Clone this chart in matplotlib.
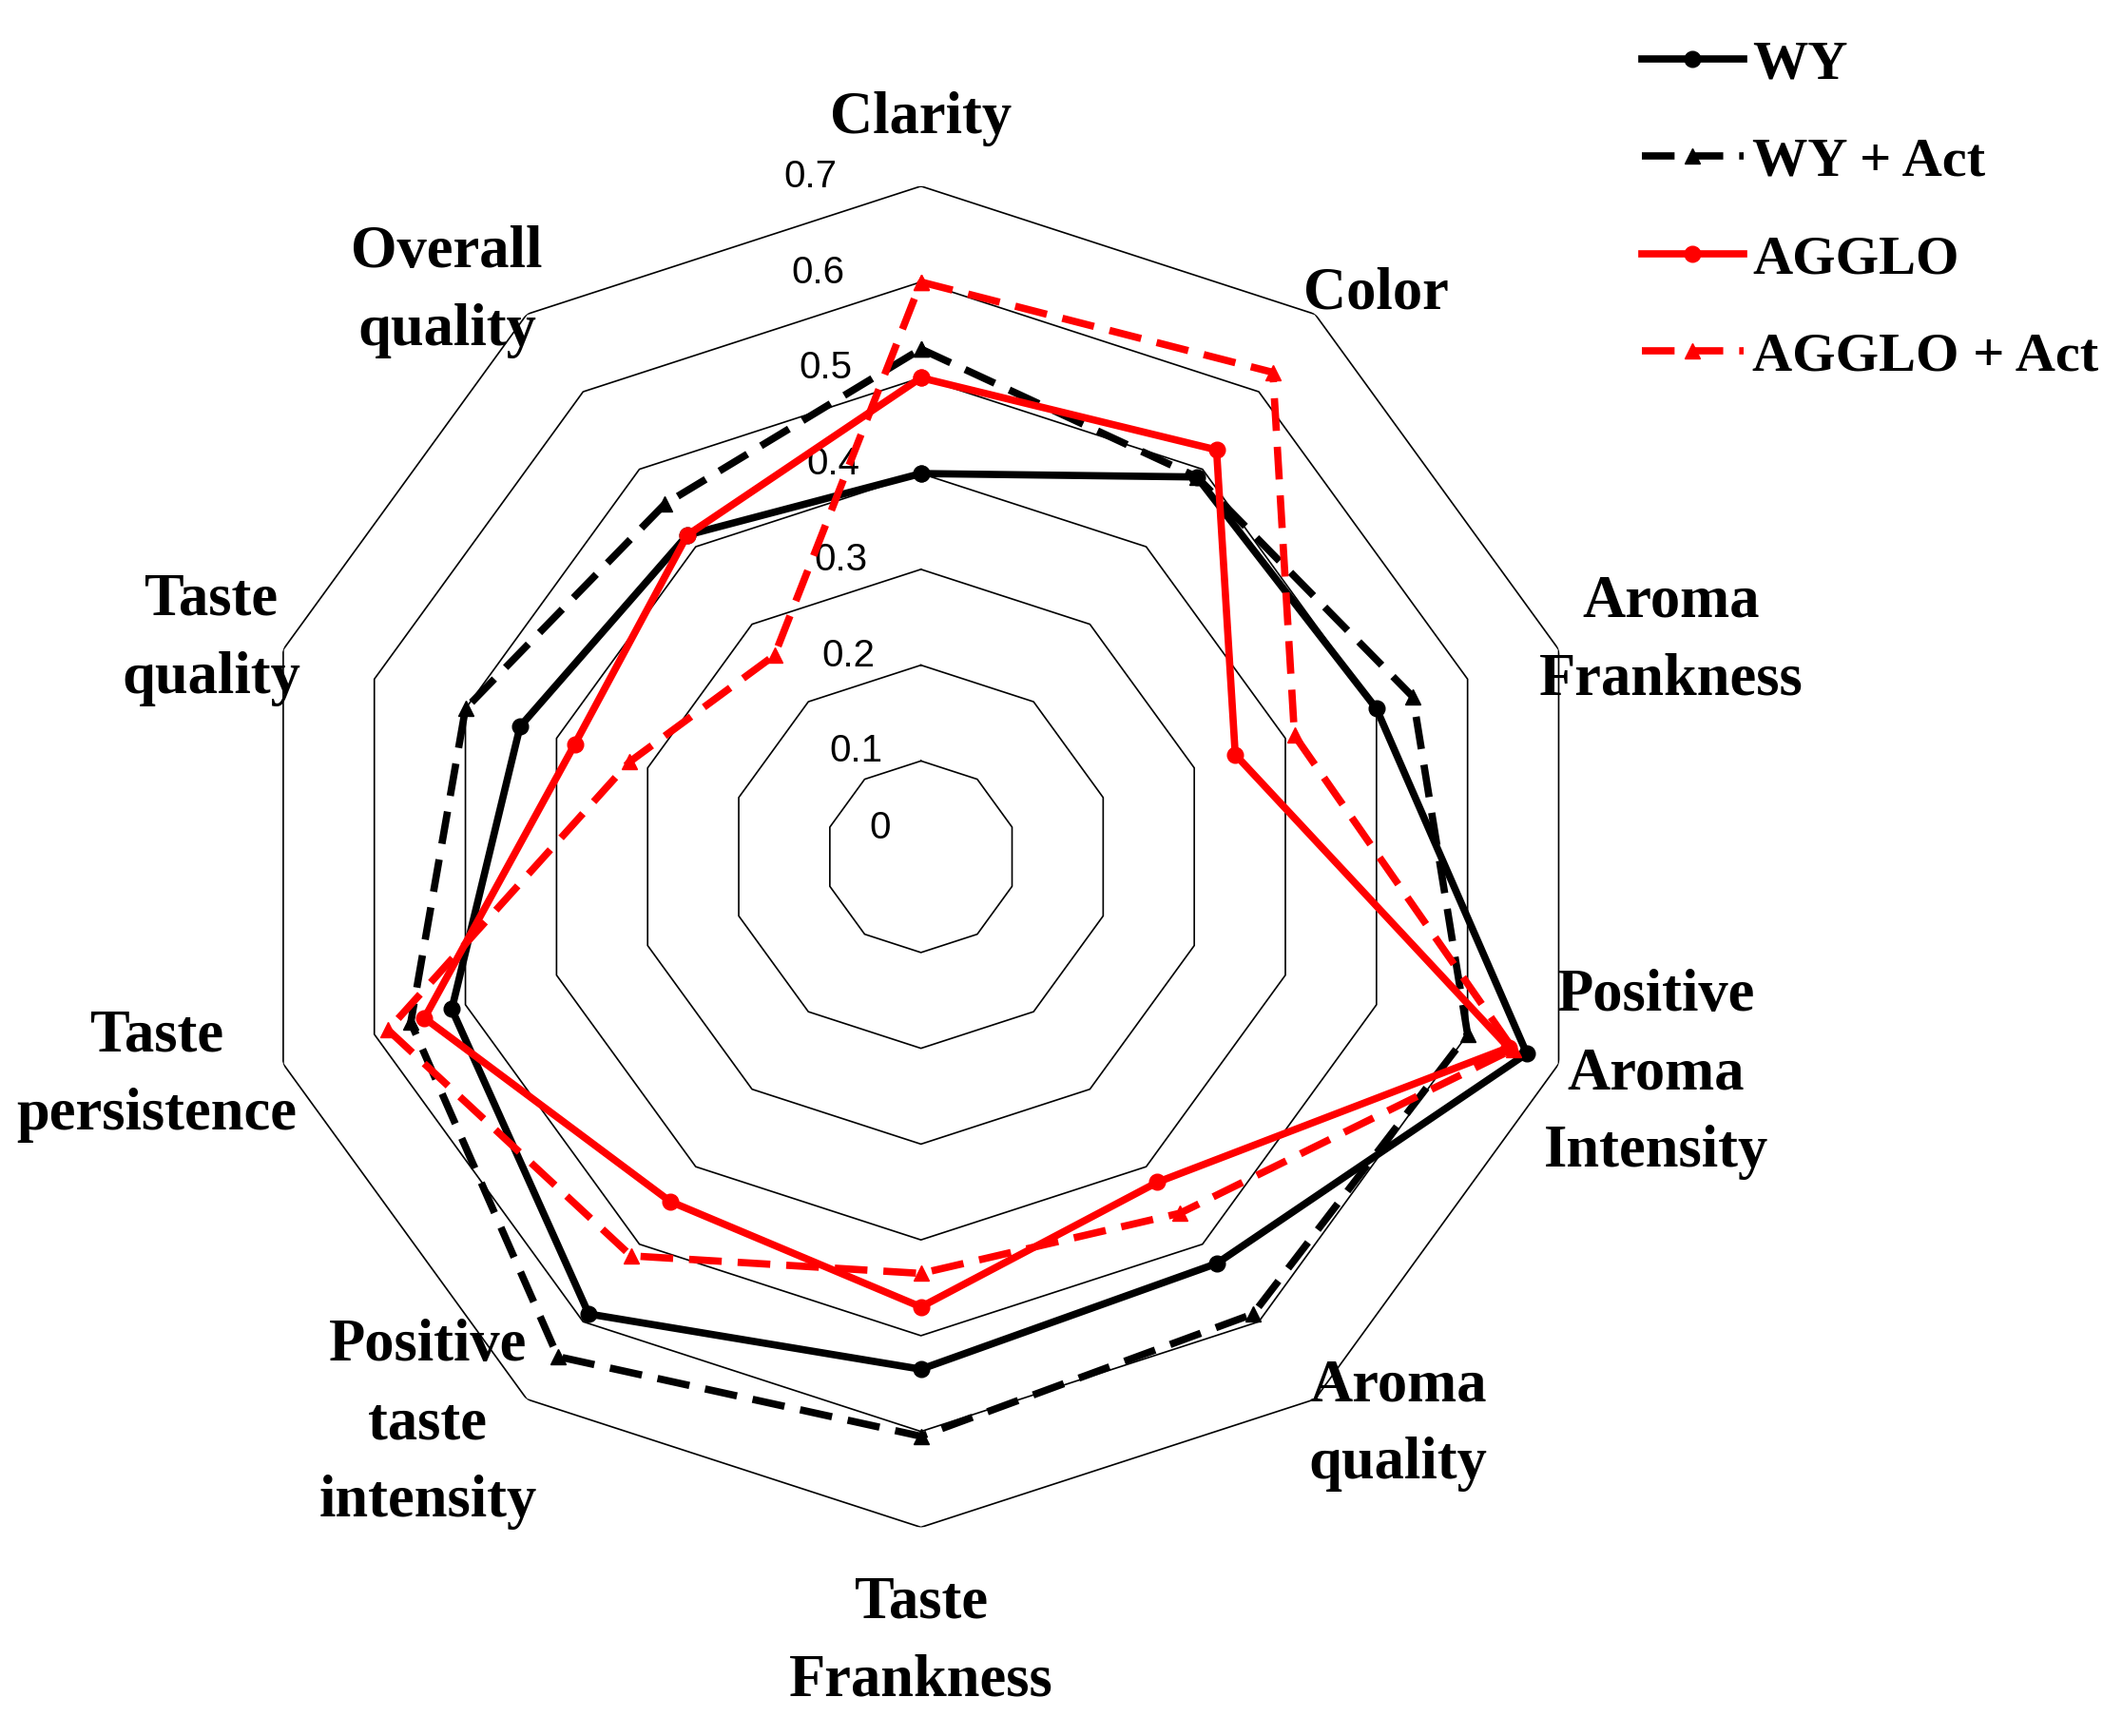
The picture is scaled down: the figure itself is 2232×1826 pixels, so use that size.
import numpy as np
import matplotlib.pyplot as plt
from matplotlib.lines import Line2D

# axes, clockwise from the top
categories = ["Clarity", "Color", "Aroma\nFrankness", "Positive\nAroma\nIntensity",
              "Aroma\nquality", "Taste\nFrankness", "Positive\ntaste\nintensity",
              "Taste\npersistence", "Taste\nquality", "Overall\nquality"]

wy = [0.40, 0.49, 0.50, 0.665, 0.525, 0.535, 0.59, 0.515, 0.44, 0.415]
wy_act = [0.53, 0.49, 0.54, 0.60, 0.59, 0.605, 0.645, 0.56, 0.50, 0.455]
agglo = [0.50, 0.525, 0.345, 0.645, 0.42, 0.47, 0.445, 0.545, 0.38, 0.415]
agglo_act = [0.60, 0.625, 0.41, 0.65, 0.46, 0.435, 0.515, 0.585, 0.32, 0.26]

levels = [0.1, 0.2, 0.3, 0.4, 0.5, 0.6, 0.7]
tick_labels = ["0", "0.1", "0.2", "0.3", "0.4", "0.5", "0.6", "0.7"]

# label placement (angle in degrees, radius)
label_pos = [(0, 0.77), (39, 0.755), (74, 0.815), (106.5, 0.80), (140, 0.775),
             (180, 0.82), (221, 0.785), (254, 0.83), (287, 0.775), (320, 0.77)]

serif = ["Liberation Serif", "DejaVu Serif"]
sans = ["Liberation Sans", "DejaVu Sans"]

n = len(categories)
theta = np.arange(n) * 2 * np.pi / n


def closed(vals):
    return np.append(theta, theta[0]), np.append(vals, vals[0])


fig = plt.figure(figsize=(22.32, 18.26), dpi=100)
ax = fig.add_axes([0.118, 0.12, 0.632, 0.773], projection="polar")
ax.set_theta_offset(np.pi / 2)
ax.set_theta_direction(-1)
ax.set_ylim(0, 0.7)
ax.grid(False)
ax.spines["polar"].set_visible(False)
ax.set_xticks([])
ax.set_yticks([])

# decagon grid
for lv in levels:
    t, r = closed(np.full(n, lv))
    ax.plot(t, r, color="black", lw=1.2, zorder=1)

# value labels along the top axis
for i, lab in enumerate(tick_labels):
    v = i * 0.1
    x = -(0.032 + 0.08 * v)
    y = v + 0.01 if i > 0 else 0.03
    ax.text(np.arctan2(x, y), np.hypot(x, y), lab, ha="right", va="center",
            fontsize=29, family=sans, zorder=2)

dash = (0, (4.5, 2.2))
series = [
    ("WY", wy, "black", "-", "o"),
    ("WY + Act", wy_act, "black", dash, "^"),
    ("AGGLO", agglo, "red", "-", "o"),
    ("AGGLO + Act", agglo_act, "red", dash, "^"),
]

handles = []
for name, vals, col, ls, mk in series:
    t, r = closed(vals)
    ax.plot(t, r, color=col, ls=ls, lw=5.5, marker=mk, markersize=12,
            zorder=3, clip_on=False)
    handles.append(Line2D([], [], color=col, ls=ls, lw=5.5, marker=mk,
                          markersize=12, label=name))

for lab, (ang, rr) in zip(categories, label_pos):
    ax.text(np.deg2rad(ang), rr, lab, ha="center", va="center", fontsize=45,
            fontweight="bold", family=serif, linespacing=1.55)

fig.legend(handles=handles, loc="upper left", bbox_to_anchor=(0.75, 1.006),
           frameon=False, handlelength=1.85, handletextpad=0.15,
           labelspacing=0.85, prop={"family": serif, "weight": "bold", "size": 42})

fig.savefig("out.png", dpi=100)
